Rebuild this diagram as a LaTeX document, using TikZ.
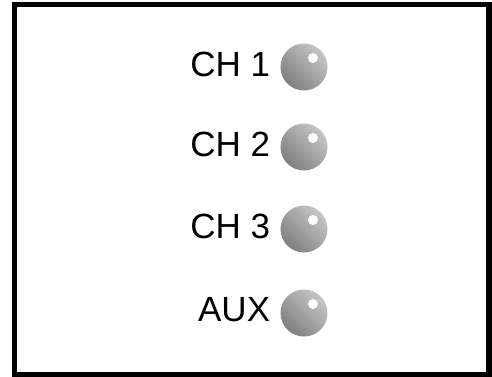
\documentclass[tikz,border=0pt]{standalone}
\usepackage{fontspec}
\setmainfont{Liberation Sans}
\usetikzlibrary{calc}
\begin{document}
\begin{tikzpicture}
	[
	x=1pt, y=-1pt,
	font=\fontsize{35}{35}\selectfont
	]
	
	% Styles for the knobs and their labels
	\tikzstyle{knob}=[circle, minimum size=47, inner sep=0, shade, top color=gray!45, bottom color=gray!100, shading angle=-45];
	\tikzstyle{spot}=[circle, fill=white, minimum size=10, inner sep=0];
	\tikzstyle{chan label}=[anchor=east, inner sep=0];
	
	\useasboundingbox (0,0) rectangle (492,377);
	% Frame
	\draw[line width=5.5] (14.5,4.5) rectangle (489,375);
	
	% Knobs
	\foreach \name/\txt/\y in {ch1/CH 1/67, ch2/CH 2/147, ch3/CH 3/229, aux/AUX/313}
	{
		\node(\name)[knob] at (304,\y){};
		\node(\name-spot)[spot] at ($(\name.center)+(9,-9)$){};
		\node(\name-label)[chan label] at ($(\name.west)+(-10,-3)$){\txt};
	}
\end{tikzpicture}
\end{document}
